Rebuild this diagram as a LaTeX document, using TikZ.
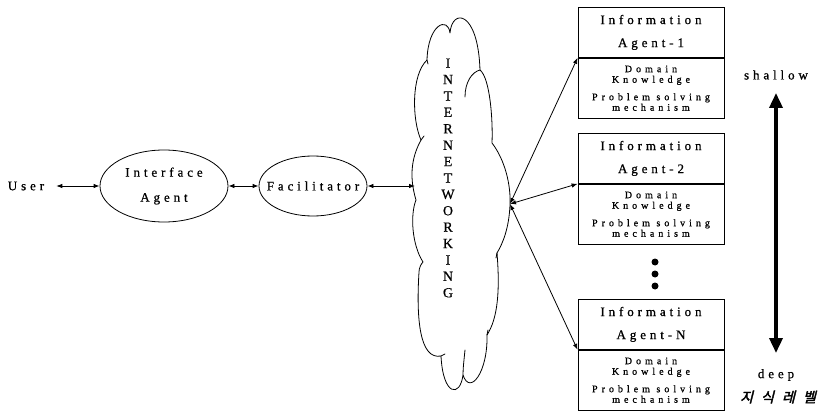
\documentclass[tikz,border=0pt]{standalone}
\usepackage{fontspec}
\setmainfont{Liberation Serif}
\newfontfamily\spc[LetterSpace=30,FakeBold=0.8]{Liberation Serif}
\newfontfamily\spcs[LetterSpace=40,FakeBold=0.8]{Liberation Serif}
\newfontfamily\vfont[FakeBold=0.6]{Liberation Serif}
\newfontfamily\kofont[FakeSlant=0.25,FakeBold=2.5,LetterSpace=35]{Noto Sans CJK KR}
\usetikzlibrary{shapes.geometric,arrows.meta}

\tikzset{
  lbl/.style={inner sep=0pt, align=center, font=\spc\fontsize{13}{25}\selectfont},
  agent/.style={ellipse, draw, line width=0.8pt, inner ysep=0pt, inner xsep=-10pt, align=center,
                font=\spc\fontsize{13}{25}\selectfont},
  headbox/.style={draw, line width=0.8pt, minimum width=146pt, minimum height=50pt,
                  inner sep=0pt, anchor=north, align=center,
                  font=\spc\fontsize{13}{23}\selectfont},
  knowbox/.style={draw, line width=0.8pt, minimum width=146pt, minimum height=60pt,
                  inner sep=0pt, anchor=north, align=center,
                  font=\spcs\fontsize{10}{10.5}\selectfont},
  dbl/.style={{Latex[length=6pt,width=4.5pt]}-{Latex[length=6pt,width=4.5pt]}, line width=0.8pt},
  level/.style={{Triangle[length=15pt,width=13pt]}-{Triangle[length=15pt,width=13pt]}, line width=3.5pt},
  dotmark/.style={circle, fill, inner sep=0pt, minimum size=7pt},
  cloudline/.style={line width=0.8pt, line join=round, line cap=round}
}

\begin{document}
\begin{tikzpicture}[x=1pt,y=-1pt]
\useasboundingbox (0,0) rectangle (823,412);

% left chain
\node[lbl] (user) at (26,186) {User};
\node[agent, minimum width=128pt, minimum height=72pt] (ia) at (164,186) {Interface\\Agent};
\node[agent, minimum width=108pt, minimum height=60pt] (fac) at (313,186) {Facilitator};

% the network cloud, drawn puff by puff
\draw[cloudline]
  (427,60) .. controls (428,24) and (448,16) .. (450,33)
  .. controls (452,8) and (478,10) .. (480,70)
  .. controls (490,78) and (493,120) .. (492,143)
  .. controls (505,160) and (511,185) .. (510,205)
  .. controls (509,228) and (503,243) .. (497,253)
  .. controls (500,290) and (498,318) .. (487,335)
  .. controls (488,372) and (470,396) .. (463,375)
  .. controls (460,398) and (443,396) .. (441,356)
  .. controls (420,360) and (416,320) .. (419,272)
  .. controls (419,268) and (421,264) .. (423,262)
  .. controls (412,245) and (410,215) .. (416,200)
  .. controls (410,180) and (410,160) .. (421,140)
  .. controls (412,120) and (411,75) .. (427,60) -- cycle;
% overlapping puff edges inside the outline
\draw[cloudline] (465,97) .. controls (465,82) and (472,72) .. (480,70);
\draw[cloudline] (465,350) .. controls (464,360) and (463,368) .. (463,375);
\draw[cloudline] (421,140) -- (424,136);
\draw[cloudline] (497,253) -- (496,258);
\draw[cloudline] (487,335) -- (488,330);
\draw[cloudline] (441,356) -- (445,354);
\draw[cloudline] (427,60) -- (428,64);
\coordinate (netw) at (415,186);
\coordinate (hub) at (510,204);

\node[inner sep=0pt, align=center, font=\vfont\fontsize{14}{16.4}\selectfont] (netlbl) at (448,178)
  {I\\N\\T\\E\\R\\N\\E\\T\\W\\O\\R\\K\\I\\N\\G};

\draw[dbl] (user.east) ++(12,0) coordinate (uend) -- (ia.west);
\draw[dbl] (ia.east) -- (fac.west);
\draw[dbl] (fac.east) -- (netw);

% information agents
\node[headbox] (h1) at (651,7) {Information\\Agent-1};
\node[knowbox] (k1) at (h1.south) {Domain\\Knowledge\\[7pt]Problem solving\\mechanism};
\node[headbox] (h2) at (651,133) {Information\\Agent-2};
\node[knowbox] (k2) at (h2.south) {Domain\\Knowledge\\[7pt]Problem solving\\mechanism};
\node[headbox] (hn) at (651,299) {Information\\Agent-N};
\node[knowbox] (kn) at (hn.south) {Domain\\Knowledge\\[7pt]Problem solving\\mechanism};

\node[dotmark] (d1) at (655,262) {};
\node[dotmark] (d2) at (655,274) {};
\node[dotmark] (d3) at (655,286) {};

\draw[dbl] (hub) -- (k1.north west);
\draw[dbl] (hub) -- (k2.north west);
\draw[dbl] (hub) -- (kn.north west);

% knowledge level scale
\node[lbl] (shallow) at (776,75) {shallow};
\node[lbl] (deep) at (776,375) {deep};
\node[inner sep=0pt, font=\kofont\fontsize{14}{16}\selectfont] (lvl) at (778,397) {지 식 레 벨};
\coordinate (top) at (776,93);
\coordinate (bot) at (776,353);
\draw[level] (top) -- (bot);
\end{tikzpicture}
\end{document}
